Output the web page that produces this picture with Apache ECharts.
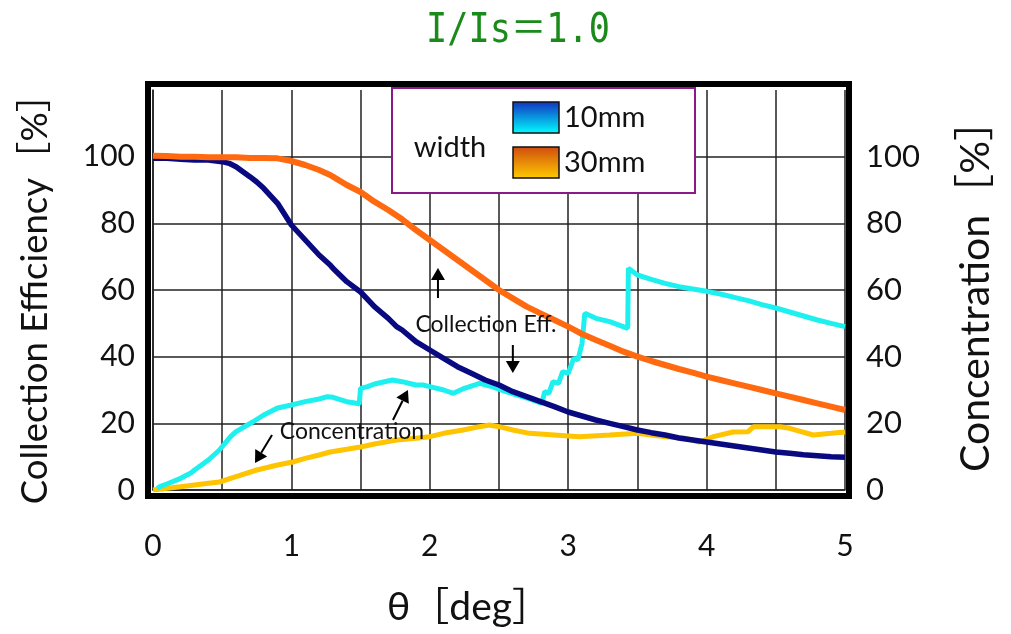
<!DOCTYPE html>
<html><head><meta charset="utf-8">
<script src="https://cdn.jsdelivr.net/npm/echarts@6/dist/echarts.min.js"></script>
<style>html,body{margin:0;padding:0;background:#fff}#c{width:1011px;height:634px}</style>
</head><body><div id="c"></div>
<script>
// ---- data ----
const ce10X = [0,0.1,0.2,0.3,0.4,0.5,0.55,0.6,0.7,0.75,0.8,0.9,1.0,1.1,1.2,1.28,1.3,1.4,1.5,1.6,1.7,1.76,1.8,1.9,2.0,2.1,2.2,2.3,2.4,2.5,2.6,2.7,2.8,2.9,3.0,3.1,3.2,3.3,3.4,3.5,3.6,3.7,3.8,3.9,4.0,4.1,4.2,4.3,4.4,4.5,4.6,4.7,4.8,4.9,5.0];
const ce10Y = [99.5,99.5,99.2,99,99,98.5,98,97,94,92.4,90.5,86,79.5,75,70.5,67.5,66.5,62.5,59.4,55,51.5,49,48,44.5,42,39.5,37,35,33,31.5,29.5,28,26.5,25,23.4,22.2,21,20,19,18,17.2,16.5,15.6,15,14.4,13.8,13.2,12.6,12,11.4,11,10.6,10.3,10,9.8];

const ce30X = [0,0.1,0.2,0.3,0.4,0.5,0.6,0.7,0.8,0.9,1.0,1.1,1.2,1.28,1.3,1.4,1.5,1.6,1.7,1.8,1.9,2.0,2.1,2.2,2.3,2.4,2.5,2.6,2.7,2.8,2.9,3.0,3.1,3.2,3.3,3.4,3.5,3.6,3.7,3.8,3.9,4.0,4.1,4.2,4.3,4.4,4.5,4.6,4.7,4.8,4.9,5.0];
const ce30Y = [100.3,100.2,100,100,99.8,99.8,99.8,99.6,99.6,99.5,98.7,97.5,96,94.5,94,91.5,89.4,86.5,84,81.2,78,75,72,69,66,63,60,57.5,55,53,51,49,46.8,45,43.3,41.5,40,38.7,37.5,36.3,35.2,34,33,32,31,30,29,28,27,26,25,24];

const cn10X = [0.03,0.05,0.1,0.2,0.27,0.3,0.4,0.48,0.56,0.6,0.72,0.8,0.9,1.0,1.1,1.2,1.26,1.3,1.4,1.47,1.49,1.5,1.55,1.6,1.73,1.8,1.9,1.95,2.0,2.1,2.17,2.25,2.36,2.45,2.55,2.7,2.81,2.83,2.86,2.89,2.93,2.96,3.0,3.04,3.07,3.1,3.12,3.2,3.3,3.43,3.435,3.5,3.6,3.7,3.8,3.9,4.0,4.1,4.2,4.3,4.4,4.5,4.6,4.7,4.8,4.9,5.0];
const cn10Y = [0.5,1,1.8,3.5,5,6,9,12,16,17.5,20.4,22.5,24.6,25.5,26.5,27.3,28,27.8,26.5,26,25.8,30.5,31,31.8,33,32.5,31.5,31.5,31,30,29,30.5,32,31,29.5,27.6,26,29.5,29,32.5,32,35.5,35,39.5,39,44,53,51.5,50.5,48.5,66.5,64.5,63.2,62,61,60.3,59.6,58.8,57.8,56.8,55.6,54.6,53.4,52.2,51,50,49];

const cn30X = [0,0.12,0.2,0.3,0.4,0.48,0.6,0.75,0.9,1.01,1.1,1.2,1.28,1.4,1.5,1.6,1.76,1.9,2.0,2.1,2.24,2.36,2.43,2.5,2.6,2.72,2.9,3.08,3.3,3.5,3.7,3.85,3.95,4.05,4.19,4.3,4.34,4.53,4.6,4.77,4.9,5.0];
const cn30Y = [0,0.6,1,1.5,2,2.4,4,6,7.5,8.4,9.5,10.5,11.4,12.2,12.9,13.8,15,15.5,16,17,18,19,19.5,19,18,17,16.5,16,16.5,17,16,15.5,14.4,16,17.4,17.5,19,19,18.5,16.5,17,17.4];

const xTicks = [0,1,2,3,4,5];
const yTicks = [0,20,40,60,80,100];
const legendNames = ['10mm','30mm'];
const titleText = 'I/Is＝1.0';

const zip = (xs, ys) => xs.map((x, i) => [x, ys[i]]);
const FONT = 'Lato, "Noto Sans CJK JP", sans-serif';

const chart = echarts.init(document.getElementById('c'), null, {renderer: 'canvas'});
const option = {
  animation: false,
  grid: {left: 153, right: 166, top: 90, bottom: 144},
  xAxis: {
    type: 'value', min: 0, max: 5, interval: 0.5,
    name: 'θ［deg］', nameLocation: 'middle', nameGap: 98,
    nameTextStyle: {fontFamily: FONT, fontSize: 39, color: '#111', padding: [0, 60, 0, 0]},
    axisLine: {show: true, lineStyle: {color: '#222', width: 1.5}},
    axisTick: {show: false},
    splitLine: {show: true, lineStyle: {color: '#222', width: 1.5}},
    axisLabel: {margin: 41, fontFamily: FONT, fontSize: 30, color: '#111',
      formatter: v => xTicks.includes(v) ? String(v) : ''}
  },
  yAxis: [{
    type: 'value', min: 0, max: 120, interval: 20, position: 'left',
    name: 'Collection Efficiency［%］', nameLocation: 'middle', nameGap: 100,
    nameTextStyle: {fontFamily: FONT, fontSize: 36.5, color: '#111'},
    axisLine: {show: true, lineStyle: {color: '#222', width: 1.5}},
    axisTick: {show: false},
    splitLine: {show: true, showMaxLine: false, lineStyle: {color: '#222', width: 1.5}},
    axisLabel: {margin: 18, fontFamily: FONT, fontSize: 30, color: '#111', padding: [8, 0, 0, 0],
      formatter: v => yTicks.includes(v) ? String(v) : ''}
  }, {
    type: 'value', min: 0, max: 120, interval: 20, position: 'right',
    name: 'Concentration［%］', nameLocation: 'middle', nameGap: 110,
    nameTextStyle: {fontFamily: FONT, fontSize: 41, color: '#111', padding: [0, 0, 0, 8]},
    axisLine: {show: false}, axisTick: {show: false}, splitLine: {show: false},
    axisLabel: {margin: 21, fontFamily: FONT, fontSize: 31, color: '#111',
      formatter: v => yTicks.includes(v) ? String(v) : ''}
  }],
  series: [
    {name: '30mm Concentration', type: 'line', yAxisIndex: 1, showSymbol: false, data: zip(cn30X, cn30Y), lineStyle: {color: '#ffc400', width: 5}, z: 2},
    {name: '10mm Concentration', type: 'line', yAxisIndex: 1, showSymbol: false, data: zip(cn10X, cn10Y), lineStyle: {color: '#1ef0f0', width: 5}, z: 3},
    {name: '10mm Collection Eff.', type: 'line', yAxisIndex: 0, showSymbol: false, data: zip(ce10X, ce10Y), lineStyle: {color: '#0a0a80', width: 5.5}, z: 4},
    {name: '30mm Collection Eff.', type: 'line', yAxisIndex: 0, showSymbol: false, data: zip(ce30X, ce30Y), lineStyle: {color: '#ff6a10', width: 6}, z: 5}
  ]
};
chart.setOption(option);

// ---- annotations, placed in data coordinates ----
const px = p => chart.convertToPixel({gridIndex: 0}, p);
function arrow(from, to) {
  const a = px(from), b = px(to);
  const dx = b[0] - a[0], dy = b[1] - a[1], L = Math.hypot(dx, dy);
  const ux = dx / L, uy = dy / L, hl = 12, hw = 7;
  const bx = b[0] - ux * hl, by = b[1] - uy * hl;
  return [
    {type: 'line', z: 20, shape: {x1: a[0], y1: a[1], x2: bx, y2: by}, style: {stroke: '#000', lineWidth: 2}},
    {type: 'polygon', z: 20, shape: {points: [[b[0], b[1]], [bx - uy * hw, by + ux * hw], [bx + uy * hw, by - ux * hw]]}, style: {fill: '#000'}}
  ];
}
function label(text, at, size) {
  const p = px(at);
  return {type: 'text', z: 20, x: p[0], y: p[1], style: {text, fill: '#111', font: `${size}px ${FONT}`, align: 'center', verticalAlign: 'middle'}};
}
const swatch = (y, c0, c1) => ({type: 'rect', z: 21, shape: {x: 513, y, width: 46, height: 31},
  style: {stroke: '#111', lineWidth: 1.5, fill: new echarts.graphic.LinearGradient(0, 0, 0, 1, [{offset: 0, color: c0}, {offset: 1, color: c1}])}});

const graphics = [
  {type: 'text', z: 20, x: 518, y: 31, scaleX: 0.86,
   style: {text: titleText, fill: '#1a8a1a', font: '41px "DejaVu Sans Mono", "Noto Sans CJK JP", monospace', align: 'center', verticalAlign: 'middle'}},
  {type: 'rect', z: 30, silent: true, shape: {x: 148, y: 84, width: 701, height: 412}, style: {fill: 'none', stroke: '#000', lineWidth: 6}},
  ...arrow([2.059, 57.6], [2.059, 66.6]),
  ...arrow([2.60, 43.5], [2.60, 35.1]),
  ...arrow([0.86, 16.5], [0.737, 8.1]),
  ...arrow([1.734, 21], [1.842, 30]),
  label('Collection Eff.', [2.406, 49.5], 23),
  label('Concentration', [1.438, 17.4], 23),
  {type: 'rect', z: 20, shape: {x: 392, y: 88, width: 303, height: 105}, style: {fill: '#fff', stroke: '#8a1a8a', lineWidth: 2}},
  {type: 'text', z: 21, x: 450, y: 148, style: {text: 'width', fill: '#111', font: `29px ${FONT}`, align: 'center', verticalAlign: 'middle'}},
  swatch(102, '#1230c0', '#00ffff'),
  swatch(147, '#d04a10', '#ffcc00'),
  {type: 'text', z: 21, x: 564, y: 118, style: {text: legendNames[0], fill: '#111', font: `29px ${FONT}`, align: 'left', verticalAlign: 'middle'}},
  {type: 'text', z: 21, x: 564, y: 163, style: {text: legendNames[1], fill: '#111', font: `29px ${FONT}`, align: 'left', verticalAlign: 'middle'}}
];
chart.setOption({graphic: graphics});
</script></body></html>
